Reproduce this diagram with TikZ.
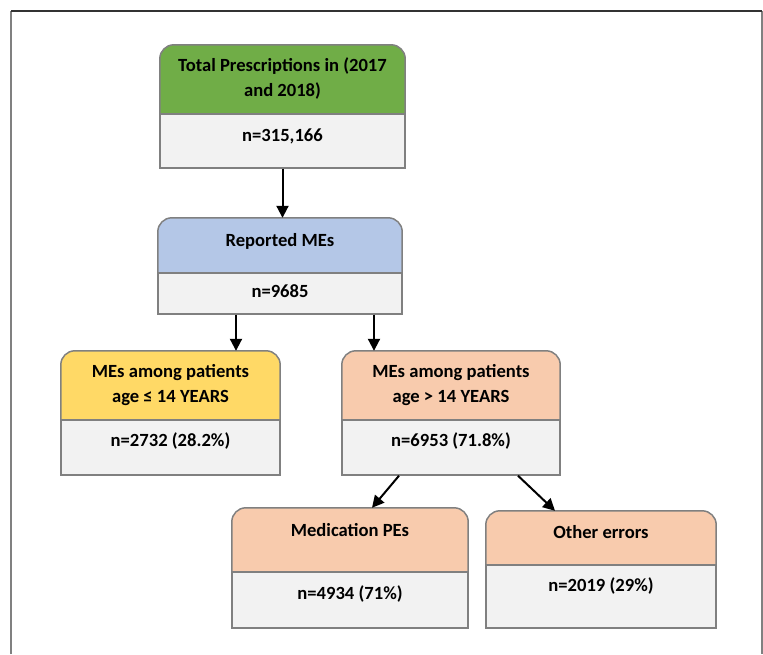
\documentclass[tikz,border=0pt]{standalone}
\usepackage{fontspec}
\setmainfont{Carlito}
\usetikzlibrary{positioning,arrows.meta,backgrounds}
\definecolor{hdgreen}{HTML}{70AD47}
\definecolor{hdblue}{HTML}{B4C7E7}
\definecolor{hdyellow}{HTML}{FFD966}
\definecolor{hdorange}{HTML}{F8CBAD}
\definecolor{nfill}{HTML}{F2F2F2}
\definecolor{edge}{HTML}{808080}
\begin{document}
\begin{tikzpicture}[x=1pt, y=-1pt,
            every node/.style = {font=\bfseries\fontsize{18.6}{25}\selectfont},
            head/.style = {minimum width=#1, inner sep=0pt, align=center},
            lift/.style = {text height=13pt, text depth=#1},
            nbox/.style = {draw=edge, fill=nfill, line width=1.5pt, inner sep=0pt},
            hdshape/.style = {draw=edge, line width=1.5pt, rounded corners=14pt},
            arr/.style = {line width=2pt, -{Triangle[length=12pt,width=12pt]}}
        ]
            \useasboundingbox (0,0) rectangle (763,654);
            % outer frame
            \draw[edge, line width=2pt] (11,654) -- (11,11);
            \draw[edge, line width=2pt] (762,11) -- (762,654);
            \draw[black!80, line width=1.5pt] (11,11) -- (762,11);

            % total
            \node[head=245pt, minimum height=68pt] (tot) at (282.5,79) {Total Prescriptions in (2017\\and 2018)};
            \node[nbox, minimum width=245pt, minimum height=54pt, lift=12pt, below=0pt of tot] (totn) {n=315,166};

            % reported
            \node[head=244pt, minimum height=54pt, lift=10pt] (rep) at (280,245) {Reported MEs};
            \node[nbox, minimum width=244pt, minimum height=41pt, lift=4pt, below=0pt of rep] (repn) {n=9685};

            % age groups
            \node[head=219pt, minimum height=68pt] (yng) at (170.5,385) {MEs among patients\\age ≤ 14 YEARS};
            \node[nbox, minimum width=219pt, minimum height=55pt, lift=14pt, below=0pt of yng] (yngn) {n=2732 (28.2\%)};
            \node[head=218pt, minimum height=68pt] (old) at (451,385) {MEs among patients\\age > 14 YEARS};
            \node[nbox, minimum width=218pt, minimum height=55pt, lift=14pt, below=0pt of old] (oldn) {n=6953 (71.8\%)};

            % error types
            \node[head=236pt, minimum height=63pt, lift=20pt] (pes) at (350,539.5) {Medication PEs};
            \node[nbox, minimum width=236pt, minimum height=56pt, lift=14pt, below=0pt of pes] (pesn) {n=4934 (71\%)};
            \node[head=230pt, minimum height=53pt, lift=12pt] (oth) at (601,537.5) {Other errors};
            \node[nbox, minimum width=230pt, minimum height=63pt, lift=22pt, below=0pt of oth] (othn) {n=2019 (29\%)};

            \begin{scope}[on background layer]
                \filldraw[hdshape, fill=hdgreen] (tot.south west) -- (tot.north west) -- (tot.north east) -- (tot.south east);
                \filldraw[hdshape, fill=hdblue] (rep.south west) -- (rep.north west) -- (rep.north east) -- (rep.south east);
                \filldraw[hdshape, fill=hdyellow] (yng.south west) -- (yng.north west) -- (yng.north east) -- (yng.south east);
                \filldraw[hdshape, fill=hdorange] (old.south west) -- (old.north west) -- (old.north east) -- (old.south east);
                \filldraw[hdshape, fill=hdorange] (pes.south west) -- (pes.north west) -- (pes.north east) -- (pes.south east);
                \filldraw[hdshape, fill=hdorange] (oth.south west) -- (oth.north west) -- (oth.north east) -- (oth.south east);
            \end{scope}

            % arrows
            \draw[arr] (totn.south) -- (totn.south |- rep.north);
            \draw[arr] ([xshift=-44pt]repn.south) -- ([xshift=-44pt]repn.south |- yng.north);
            \draw[arr] ([xshift=94pt]repn.south) -- ([xshift=94pt]repn.south |- old.north);
            \draw[arr] ([xshift=-52pt]oldn.south) -- ([xshift=22pt]pes.north);
            \draw[arr] ([xshift=67pt]oldn.south) -- ([xshift=-46pt]oth.north);
        \end{tikzpicture}
\end{document}
